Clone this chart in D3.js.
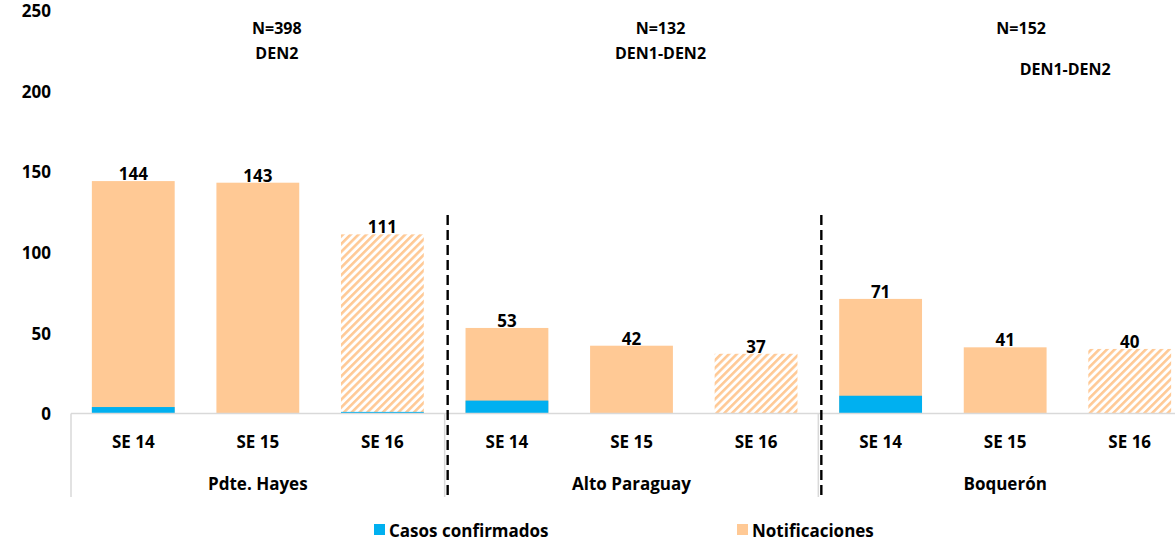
<!DOCTYPE html>
<html>
<head>
<meta charset="utf-8">
<script src="https://cdn.jsdelivr.net/npm/d3@7"></script>
<style>
  html, body { margin: 0; padding: 0; background: #fff; }
  svg { display: block; }
  text { font-family: "Open Sans", Lato, sans-serif; font-weight: bold; fill: #000; }
</style>
</head>
<body>
<svg id="chart" width="1175" height="541"></svg>
<script>
// data
var groups = ["Pdte. Hayes", "Alto Paraguay", "Boquerón"];
var weeks = ["SE 14", "SE 15", "SE 16"];
var notificaciones = [144, 143, 111, 53, 42, 37, 71, 41, 40];
var confirmados = [4, 0, 1, 8, 0.3, 0, 11, 0.3, 0];
var hatched = [false, false, true, false, false, true, false, false, true];
var yTicks = [0, 50, 100, 150, 200, 250];
var headers = [
    ["N=398", "DEN2"],
    ["N=132", "DEN1-DEN2"],
    ["N=152", "DEN1-DEN2"]
];

var blue = "#00b0f0",
    peach = "#ffc995",
    axisGray = "#d9d9d9",
    font = "'Open Sans', Lato, sans-serif";

var svg = d3.select("#chart");

// one slot per bar, 9 slots
var slots = [];
groups.forEach(function(g, gi) {
    weeks.forEach(function(w, wi) {
        var i = gi * weeks.length + wi;
        slots.push({
            key: g + "|" + w, group: g, gi: gi, week: w,
            notif: notificaciones[i], conf: confirmados[i], hatch: hatched[i]
        });
    });
});

var x = d3.scaleBand()
    .domain(slots.map(function(d) { return d.key; }))
    .range([71, 1192])
    .paddingInner(0.335)
    .paddingOuter(0.1675);

var y = d3.scaleLinear().domain([0, 250]).range([413.5, 10]);

var step = x.step();

// hatch pattern for SE 16
var defs = svg.append("defs");
var pat = defs.append("pattern")
    .attr("id", "hatch")
    .attr("patternUnits", "userSpaceOnUse")
    .attr("width", 5.5).attr("height", 5.5)
    .attr("patternTransform", "rotate(45)");
pat.append("rect").attr("width", 5.5).attr("height", 5.5).attr("fill", "#fff");
pat.append("rect").attr("x", 0).attr("width", 2.6).attr("height", 5.5).attr("fill", peach);

// y tick labels (no axis line)
var yAxis = d3.axisLeft(y).tickValues(yTicks).tickSize(0).tickPadding(0);
var ya = svg.append("g").attr("transform", "translate(51,0)").call(yAxis);
ya.select(".domain").remove();
ya.selectAll("text")
    .attr("dy", "0.38em")
    .attr("font-size", 17)
    .attr("font-family", font)
    .attr("font-weight", "bold")
    .attr("fill", "#000");

// bars
var bars = svg.append("g");
bars.selectAll("rect.notif").data(slots).enter().append("rect")
    .attr("class", "notif")
    .attr("x", function(d) { return x(d.key); })
    .attr("width", x.bandwidth())
    .attr("y", function(d) { return y(d.notif); })
    .attr("height", function(d) { return y(0) - y(d.notif); })
    .attr("fill", function(d) { return d.hatch ? "url(#hatch)" : peach; });

bars.selectAll("rect.conf").data(slots.filter(function(d) { return d.conf > 0; })).enter().append("rect")
    .attr("class", "conf")
    .attr("x", function(d) { return x(d.key); })
    .attr("width", x.bandwidth())
    .attr("y", function(d) { return y(d.conf); })
    .attr("height", function(d) { return y(0) - y(d.conf); })
    .attr("fill", blue);

// value labels
svg.append("g").selectAll("text").data(slots).enter().append("text")
    .attr("x", function(d) { return x(d.key) + x.bandwidth() / 2; })
    .attr("y", function(d) { return y(d.notif) - 1; })
    .attr("text-anchor", "middle")
    .attr("font-size", 17)
    .text(function(d) { return d.notif; });

// category axis
var x0 = x.range()[0];
var ax = svg.append("g");
ax.append("line")
    .attr("x1", x0).attr("x2", 1175)
    .attr("y1", y(0)).attr("y2", y(0))
    .attr("stroke", axisGray).attr("stroke-width", 1.5);
d3.range(groups.length).forEach(function(gi) {
    var gx = x0 + gi * weeks.length * step;
    ax.append("line")
        .attr("x1", gx).attr("x2", gx)
        .attr("y1", y(0)).attr("y2", 497)
        .attr("stroke", axisGray).attr("stroke-width", 1.5);
});

ax.selectAll("text.week").data(slots).enter().append("text")
    .attr("class", "week")
    .attr("x", function(d) { return x(d.key) + x.bandwidth() / 2; })
    .attr("y", 448)
    .attr("text-anchor", "middle")
    .attr("font-size", 17)
    .text(function(d) { return d.week; });

ax.selectAll("text.group").data(groups).enter().append("text")
    .attr("class", "group")
    .attr("x", function(d, i) { return x0 + (i + 0.5) * weeks.length * step; })
    .attr("y", 490)
    .attr("text-anchor", "middle")
    .attr("font-size", 17)
    .text(function(d) { return d; });

// dashed separators between departments
d3.range(1, groups.length).forEach(function(gi) {
    var gx = x0 + gi * weeks.length * step + 3;
    svg.append("line")
        .attr("x1", gx).attr("x2", gx)
        .attr("y1", 215).attr("y2", 496)
        .attr("stroke", "#000").attr("stroke-width", 2.4)
        .attr("stroke-dasharray", "10,5");
});

// N / serotype notes, placed like the original text boxes
var headerShift = [[19, 19], [29, 29], [16, 60]];
var headerY = [[34, 59], [34, 59], [34, 75]];
headers.forEach(function(lines, gi) {
    var cx = x0 + (gi + 0.5) * weeks.length * step;
    lines.forEach(function(t, li) {
        svg.append("text")
            .attr("x", cx + headerShift[gi][li])
            .attr("y", headerY[gi][li])
            .attr("text-anchor", "middle")
            .attr("font-size", 16)
            .text(t);
    });
});

// legend
var legend = [
    { label: "Casos confirmados", color: blue, x: 374 },
    { label: "Notificaciones", color: peach, x: 737 }
];
var lg = svg.append("g").selectAll("g").data(legend).enter().append("g")
    .attr("transform", function(d) { return "translate(" + d.x + ",524)"; });
lg.append("rect").attr("width", 11).attr("height", 11).attr("fill", function(d) { return d.color; });
lg.append("text").attr("x", 15).attr("y", 13).attr("font-size", 17).text(function(d) { return d.label; });
</script>
</body>
</html>
